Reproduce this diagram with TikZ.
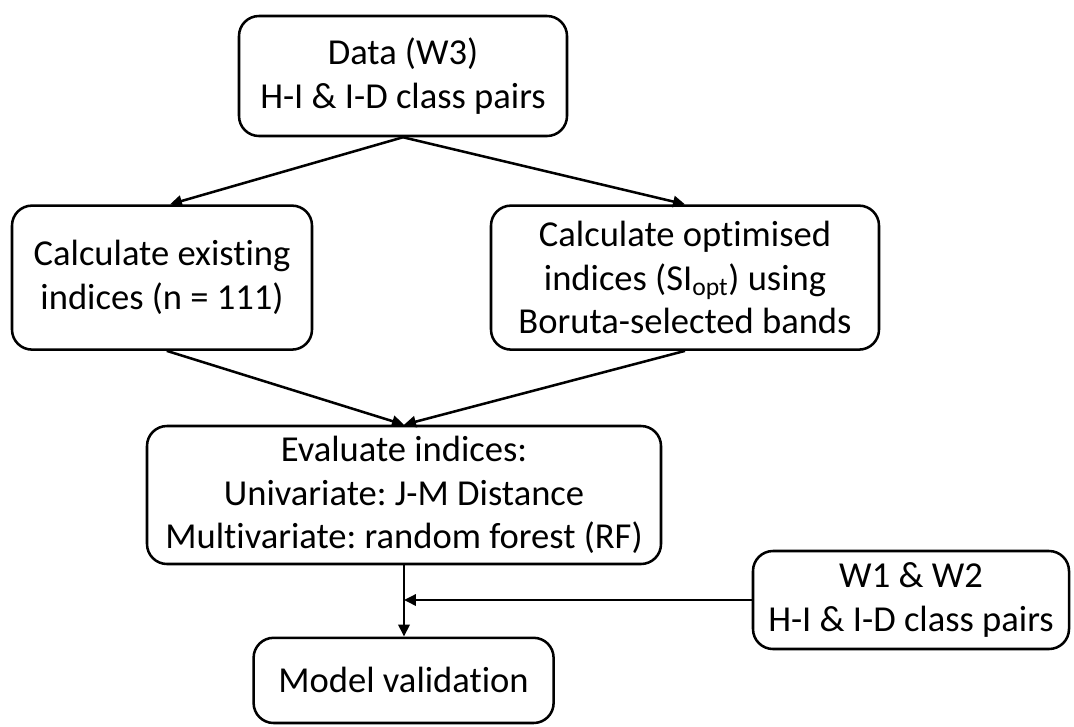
\documentclass[tikz,border=0pt]{standalone}
\usepackage{fontspec}
\setmainfont{Carlito}[Ligatures=NoCommon]
\frenchspacing
\usepackage{tikz}
\usetikzlibrary{positioning}
\usetikzlibrary{arrows.meta}
\tikzset{
stepbox/.style 2 args={draw, line width=1.8pt, rounded corners=0.5cm, align=center,
	inner sep=0pt, minimum width=#1, minimum height=#2,
	font=\fontsize{26}{31}\selectfont},
flow/.style={-{Triangle[length=8.5pt, width=8pt]}, line width=1.8pt},
}
\begin{document}
\begin{tikzpicture}
\useasboundingbox (0,0) rectangle (26.85,-18.15);
\node[stepbox={8.2cm}{3.0cm}] (data) at (10.075,-1.9) {Data (W3)\\H-I \& I-D class pairs};
\node[stepbox={7.5cm}{3.6cm}] (exist) at (4.05,-6.94) {Calculate existing\\indices (n = 111)};
\node[stepbox={9.7cm}{3.6cm}] (opt) at (17.125,-6.94) {Calculate optimised\\indices (SI\textsubscript{opt}) using\\Boruta-selected bands};
\node[stepbox={12.85cm}{3.45cm}] (eval) at (10.1,-12.375) {Evaluate indices:\\Univariate: J-M Distance\\Multivariate: random forest (RF)};
\node[stepbox={7.5cm}{2.13cm}] (model) at (10.09,-17.01) {Model validation};
\node[stepbox={7.9cm}{2.45cm}] (w12) at (22.775,-15) {W1 \& W2\\H-I \& I-D class pairs};

\coordinate (join) at (eval.south |- w12.west);

%
\draw[flow] (data.south) to ([xshift=0.2cm]exist.north);
\draw[flow] (data.south) to (opt.north);

%
\draw[flow] ([xshift=0.12cm]exist.south) to (eval.north);
\draw[flow] (opt.south) to (eval.north);

%
\draw[flow] (eval.south) to (eval.south |- model.north);
\draw[flow] (w12.west) to (join);
\end{tikzpicture}
\end{document}
